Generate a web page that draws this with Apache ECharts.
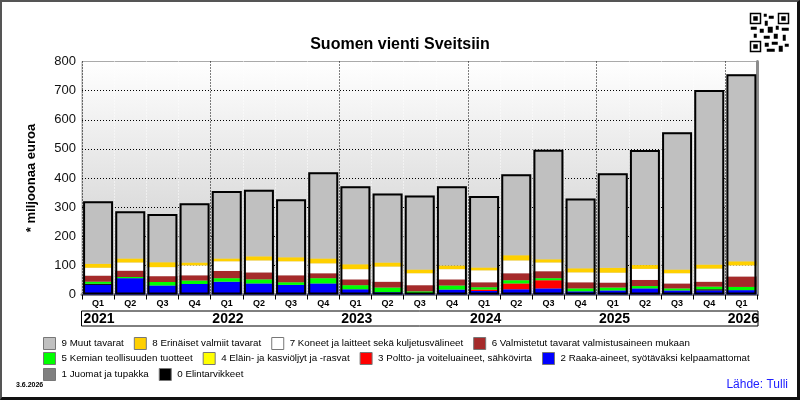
<!DOCTYPE html>
<html><head><meta charset="utf-8">
<script src="https://cdn.jsdelivr.net/npm/echarts@6/dist/echarts.min.js"></script>
<style>
html,body{margin:0;padding:0;background:#fff;}
#wrap{position:relative;width:800px;height:400px;}
#chart{position:absolute;left:0;top:0;width:800px;height:400px;}
#frame{position:absolute;left:0;top:0;width:800px;height:400px;box-sizing:border-box;border-top:2px solid #555;border-left:2px solid #555;border-right:3px solid #111;border-bottom:3px solid #111;pointer-events:none;}
</style></head><body>
<div id="wrap"><div id="chart"></div><div id="frame"></div></div>
<script>
// ---- data ----
const periods = ['2021 Q1','2021 Q2','2021 Q3','2021 Q4','2022 Q1','2022 Q2','2022 Q3','2022 Q4',
  '2023 Q1','2023 Q2','2023 Q3','2023 Q4','2024 Q1','2024 Q2','2024 Q3','2024 Q4',
  '2025 Q1','2025 Q2','2025 Q3','2025 Q4','2026 Q1'];
const raakaAineet   = [33,56,31,36,44,38,33,38,18, 8, 3,17,12,18,21,11,14,21,14,14,15];
const polttoaineet  = [ 0, 0, 0, 0, 0, 0, 0, 0, 0, 0, 0, 0, 5,20,28, 0, 0, 0, 0, 0, 0];
const elintarvikkeet= [ 4, 0, 0, 0, 0, 0, 0, 0, 0, 0, 0, 0, 0, 0, 0, 0, 0, 0, 0, 4, 0];
const juomat        = [ 0, 0, 0, 0, 0, 0, 0, 0, 0, 0, 0, 0, 0, 0, 0, 0, 0, 0, 0, 0, 0];
const oljyt         = [ 0, 0, 0, 0, 0, 0, 0, 0, 0, 0, 0, 0, 0, 0, 0, 0, 0, 0, 0, 0, 0];
const kemian        = [ 7, 4,12,12,12,14, 9,18,14,16, 8,14, 8,11, 7,10,10, 8, 7, 9,11];
const valmistetut   = [21,22,20,18,25,24,24,17,20,20,21,21,17,24,24,21,17,21,17,17,36];
const koneet        = [27,28,31,34,33,41,48,34,35,52,41,35,41,44,30,34,34,38,35,45,38];
const erinaiset     = [14,14,17,10,10,14,14,17,17,14,13,13,10,18,11,14,17,13,13,14,14];
const muut          = [214,162,165,203,231,229,199,296,268,237,254,272,245,278,376,240,324,395,471,599,642];
const yTicks = [0,100,200,300,400,500,600,700,800];

const N = {
  n9:'9 Muut tavarat', n8:'8 Erinäiset valmiit tavarat', n7:'7 Koneet ja laitteet sekä kuljetusvälineet',
  n6:'6 Valmistetut tavarat valmistusaineen mukaan', n5:'5 Kemian teollisuuden tuotteet',
  n4:'4 Eläin- ja kasviöljyt ja -rasvat', n3:'3 Poltto- ja voiteluaineet, sähkövirta',
  n2:'2 Raaka-aineet, syötäväksi kelpaamattomat', n1:'1 Juomat ja tupakka', n0:'0 Elintarvikkeet'
};
// stacking order, bottom to top
const stackDefs = [
  [N.n2, raakaAineet, '#0000ff'],
  [N.n3, polttoaineet, '#ff0000'],
  [N.n0, elintarvikkeet, '#000000'],
  [N.n1, juomat, '#808080'],
  [N.n4, oljyt, '#ffff00'],
  [N.n5, kemian, '#00ff00'],
  [N.n6, valmistetut, '#a52a2a'],
  [N.n7, koneet, '#ffffff'],
  [N.n8, erinaiset, '#ffd000'],
  [N.n9, muut, '#c0c0c0']
];
const totals = periods.map((_, i) => stackDefs.reduce((s, d) => s + d[1][i], 0));

const FONT = '"Liberation Sans", Arial, sans-serif';
const BW = 30;
const series = stackDefs.map(d => ({
  name: d[0], type: 'bar', stack: 'all', data: d[1], barWidth: BW,
  itemStyle: { color: d[2], borderWidth: 0 }, xAxisIndex: 0, yAxisIndex: 0
}));
series.push({
  name: 'yhteensä', type: 'bar', data: totals, barWidth: BW, barGap: '-100%', z: 5, silent: true,
  itemStyle: { color: 'rgba(0,0,0,0)', borderColor: '#000', borderWidth: 2 }, xAxisIndex: 0, yAxisIndex: 0
});

const legendCommon = {
  left: 43, orient: 'horizontal', itemWidth: 12, itemHeight: 12, itemGap: 10, padding: 0,
  icon: 'rect', selectedMode: false,
  itemStyle: { borderColor: '#777', borderWidth: 1 },
  textStyle: { fontSize: 9.75, color: '#000', fontFamily: FONT, padding: [0, 0, 0, 1] }
};

const chart = echarts.init(document.getElementById('chart'), null, { renderer: 'canvas' });
chart.setOption({
  animation: false,
  backgroundColor: '#fff',
  title: { text: 'Suomen vienti Sveitsiin', left: 'center', top: 32,
    textStyle: { fontSize: 16, fontWeight: 'bold', color: '#000', fontFamily: FONT } },
  legend: [
    Object.assign({}, legendCommon, { top: 337, data: [N.n9, N.n8, N.n7, N.n6] }),
    Object.assign({}, legendCommon, { top: 352, data: [N.n5, N.n4, N.n3, N.n2] }),
    Object.assign({}, legendCommon, { top: 368, data: [N.n1, N.n0] })
  ],
  grid: [
    { left: 82, right: 42.5, top: 61.5, bottom: 105.5, show: true, borderColor: '#aaa', borderWidth: 1,
      backgroundColor: new echarts.graphic.LinearGradient(0, 0, 0, 1, [
        { offset: 0, color: '#ffffff' }, { offset: 1, color: '#c8c8c8' }]) },
    { left: 81.5, right: 42, top: 311, height: 15, show: true, borderColor: '#000', borderWidth: 1, backgroundColor: '#fff' }
  ],
  xAxis: [
    { type: 'category', gridIndex: 0, data: periods,
      axisLine: { lineStyle: { color: '#8c8c8c', width: 3 } },
      axisTick: { show: true, interval: 0, length: 5, lineStyle: { color: '#000' } },
      axisLabel: { interval: 0, formatter: v => v.split(' ')[1], fontSize: 9, fontWeight: 'bold', color: '#000', margin: 5, fontFamily: FONT },
      splitLine: { show: true, interval: 0, lineStyle: { type: [1, 2], width: 1, color: ['#000', '#fff', '#fff', '#fff'] } }
    },
    { type: 'value', gridIndex: 1, min: 0, max: periods.length, interval: 1, position: 'top',
      axisLine: { show: false }, axisTick: { show: false }, splitLine: { show: false },
      axisLabel: { inside: true, margin: 0, align: 'left', verticalAlign: 'top', padding: [1, 0, 0, 2],
        fontSize: 14, fontWeight: 'bold', color: '#000', fontFamily: FONT,
        formatter: v => { const p = periods[Math.round(v)]; return (p && p.endsWith('Q1')) ? p.split(' ')[0] : ''; } }
    }
  ],
  yAxis: [
    { type: 'value', gridIndex: 0, min: yTicks[0], max: yTicks[yTicks.length - 1], interval: yTicks[1] - yTicks[0],
      axisLine: { show: false }, axisTick: { show: false },
      axisLabel: { fontSize: 13, color: '#111', margin: 6, fontFamily: FONT },
      splitLine: { show: true, showMinLine: false, showMaxLine: false, lineStyle: { type: [1, 2], color: '#000', width: 1 } },
      name: '* miljoonaa euroa', nameLocation: 'middle', nameRotate: 90, nameGap: 44,
      nameTextStyle: { fontSize: 13, fontWeight: 'bold', color: '#000', fontFamily: FONT }
    },
    { type: 'value', gridIndex: 0, position: 'right', min: 0, max: 800,
      axisLine: { show: true, lineStyle: { color: '#8c8c8c', width: 3 } },
      axisTick: { show: false }, axisLabel: { show: false }, splitLine: { show: false } },
    { type: 'value', gridIndex: 1, show: false }
  ],
  graphic: [
    { type: 'text', left: 16, top: 382, style: { text: '3.6.2026', fontSize: 7, fontWeight: 'bold', fill: '#000', fontFamily: FONT } },
    { type: 'text', right: 12, top: 379, style: { text: 'Lähde: Tulli', fontSize: 12, fill: '#2020ff', fontFamily: FONT } },
    { type: 'group', left: 748, top: 11, children: [
      { type: 'rect', shape: { x: 0, y: 0, width: 40, height: 40 }, style: { fill: '#fff' } },
      { type: 'rect', shape: { x: 0.75, y: 0.75, width: 10, height: 10 }, style: { fill: 'none', stroke: '#000', lineWidth: 1.5 } },
      { type: 'rect', shape: { x: 3.5, y: 3.5, width: 4.5, height: 4.5 }, style: { fill: '#000' } },
      { type: 'rect', shape: { x: 28.75, y: 0.75, width: 10, height: 10 }, style: { fill: 'none', stroke: '#000', lineWidth: 1.5 } },
      { type: 'rect', shape: { x: 31.5, y: 3.5, width: 4.5, height: 4.5 }, style: { fill: '#000' } },
      { type: 'rect', shape: { x: 0.75, y: 28.75, width: 10, height: 10 }, style: { fill: 'none', stroke: '#000', lineWidth: 1.5 } },
      { type: 'rect', shape: { x: 3.5, y: 31.5, width: 4.5, height: 4.5 }, style: { fill: '#000' } },
      { type: 'rect', shape: { x: 14, y: 1, width: 3, height: 3 }, style: { fill: '#000' } },
      { type: 'rect', shape: { x: 19, y: 3, width: 5, height: 3 }, style: { fill: '#000' } },
      { type: 'rect', shape: { x: 15, y: 8, width: 3, height: 5 }, style: { fill: '#000' } },
      { type: 'rect', shape: { x: 1, y: 14, width: 6, height: 3 }, style: { fill: '#000' } },
      { type: 'rect', shape: { x: 10, y: 16, width: 4, height: 4 }, style: { fill: '#000' } },
      { type: 'rect', shape: { x: 18, y: 14, width: 5, height: 6 }, style: { fill: '#000' } },
      { type: 'rect', shape: { x: 26, y: 13, width: 3, height: 4 }, style: { fill: '#000' } },
      { type: 'rect', shape: { x: 32, y: 15, width: 7, height: 3 }, style: { fill: '#000' } },
      { type: 'rect', shape: { x: 4, y: 21, width: 3, height: 4 }, style: { fill: '#000' } },
      { type: 'rect', shape: { x: 14, y: 23, width: 6, height: 3 }, style: { fill: '#000' } },
      { type: 'rect', shape: { x: 24, y: 21, width: 4, height: 5 }, style: { fill: '#000' } },
      { type: 'rect', shape: { x: 33, y: 22, width: 3, height: 6 }, style: { fill: '#000' } },
      { type: 'rect', shape: { x: 15, y: 30, width: 4, height: 4 }, style: { fill: '#000' } },
      { type: 'rect', shape: { x: 22, y: 29, width: 6, height: 3 }, style: { fill: '#000' } },
      { type: 'rect', shape: { x: 29, y: 33, width: 4, height: 6 }, style: { fill: '#000' } },
      { type: 'rect', shape: { x: 17, y: 36, width: 8, height: 3 }, style: { fill: '#000' } },
      { type: 'rect', shape: { x: 35, y: 31, width: 4, height: 3 }, style: { fill: '#000' } }
    ] }
  ],
  series: series
});
</script>
</body></html>
